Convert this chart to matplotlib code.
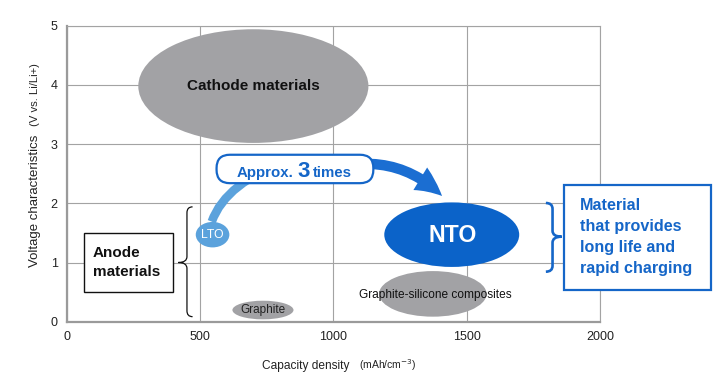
import matplotlib
matplotlib.use("Agg")
import matplotlib.pyplot as plt
from matplotlib.patches import Ellipse, Rectangle, FancyBboxPatch, FancyArrowPatch, ArrowStyle, PathPatch
from matplotlib.path import Path

plt.rcParams['font.family'] = ['Liberation Sans', 'DejaVu Sans']

# ---- data ----
x_ticks = [0, 500, 1000, 1500, 2000]
y_ticks = [0, 1, 2, 3, 4, 5]
materials = ["Cathode materials", "NTO", "Graphite-silicone composites", "Graphite", "LTO"]
cap_center = [700, 1444, 1373, 736, 547]       # mAh/cm3
cap_span = [863, 506, 403, 229, 126]
volt_center = [3.98, 1.47, 0.47, 0.197, 1.47]  # V vs Li/Li+
volt_span = [1.92, 1.09, 0.77, 0.315, 0.43]
colors = ["#a2a2a5", "#0b63c9", "#a2a2a5", "#a2a2a5", "#5ba2dc"]

GRID = "#a3a3a3"
BLUE = "#1566c8"

fig = plt.figure(figsize=(7.18, 3.79), dpi=100)
ax = fig.add_axes([66.7 / 718, 1 - 321.7 / 379, (600 - 66.7) / 718, (321.7 - 25.7) / 379])
ax.set_xlim(0, 2000)
ax.set_ylim(0, 5)
ax.set_xticks(x_ticks)
ax.set_yticks(y_ticks)
ax.tick_params(length=0, labelsize=9, colors="#222222", pad=6.5)
ax.grid(True, color=GRID, lw=0.8, zorder=0)
ax.set_axisbelow(True)
for s in ["left", "bottom"]:
    ax.spines[s].set_color("#9a9a9a")
    ax.spines[s].set_linewidth(1.6)
for s in ["right", "top"]:
    ax.spines[s].set_color(GRID)
    ax.spines[s].set_linewidth(0.8)

# ---- ellipses ----
for name, cx, cy, w, h, c in zip(materials, cap_center, volt_center, cap_span, volt_span, colors):
    ax.add_patch(Ellipse((cx, cy), w, h, facecolor=c, edgecolor="none", zorder=3))

ax.text(cap_center[0], volt_center[0], "Cathode materials", ha="center", va="center",
        fontsize=11, fontweight="bold", color="#111111", zorder=6)
ax.text(cap_center[1] + 3, volt_center[1] - 0.02, "NTO", ha="center", va="center",
        fontsize=16.7, fontweight="bold", color="white", zorder=6)
ax.text(1384, 0.45, "Graphite-silicone composites", ha="center", va="center",
        fontsize=8.6, color="#111111", zorder=6)
ax.text(cap_center[3], volt_center[3], "Graphite", ha="center", va="center",
        fontsize=8.5, color="#222222", zorder=6)
ax.text(cap_center[4], volt_center[4], "LTO", ha="center", va="center",
        fontsize=8.8, color="white", zorder=6)

# ---- curved arrows ----
arc = Path([(544, 1.69), (597, 2.36), (837, 2.73)], [Path.MOVETO, Path.CURVE3, Path.CURVE3])
ax.add_patch(PathPatch(arc, facecolor="none", edgecolor="#5ba2dc", lw=6.2,
                       capstyle="butt", zorder=2.5))
ax.add_patch(FancyArrowPatch((1062, 2.65), (1415, 2.09), connectionstyle="arc3,rad=-0.25",
                             arrowstyle=ArrowStyle.Simple(head_length=20, head_width=19, tail_width=7.5),
                             mutation_scale=1, color="#1b6ed2", lw=0, zorder=4))

# pill label
px_per_x = (600 - 66.7) / 2000
px_per_y = (321.7 - 25.7) / 5
ax.add_patch(FancyBboxPatch((562, 2.34), 1150 - 562, 2.82 - 2.34,
                            boxstyle="round,pad=0,rounding_size=50",
                            mutation_aspect=px_per_x / px_per_y,
                            facecolor="white", edgecolor=BLUE, lw=1.6, zorder=5))
ax.text(850, 2.44, "Approx.", ha="right", va="baseline", fontsize=10.8,
        fontweight="bold", color=BLUE, zorder=6)
ax.text(888, 2.44, "3", ha="center", va="baseline", fontsize=16,
        fontweight="bold", color=BLUE, zorder=6)
ax.text(925, 2.44, "times", ha="left", va="baseline", fontsize=10.8,
        fontweight="bold", color=BLUE, zorder=6)


def brace(x_end, x_mid, x_tip, y_bot, y_top, y_tip, hook, color, lw):
    verts = [(x_end, y_top), (x_mid, y_top), (x_mid, y_top - hook),
             (x_mid, y_tip + hook), (x_mid, y_tip), (x_tip, y_tip),
             (x_mid, y_tip), (x_mid, y_tip - hook),
             (x_mid, y_bot + hook), (x_mid, y_bot), (x_end, y_bot)]
    codes = [Path.MOVETO, Path.CURVE3, Path.CURVE3,
             Path.LINETO, Path.CURVE3, Path.CURVE3,
             Path.CURVE3, Path.CURVE3,
             Path.LINETO, Path.CURVE3, Path.CURVE3]
    ax.add_patch(PathPatch(Path(verts, codes), facecolor="none", edgecolor=color,
                           lw=lw, zorder=6, clip_on=False))


brace(472, 451, 419, 0.085, 1.94, 1.0, 0.1, "#111111", 0.9)
brace(1797, 1822, 1856, 0.845, 2.005, 1.436, 0.1, BLUE, 1.9)

# anode box
ax.add_patch(Rectangle((66, 0.507), 334, 0.986, facecolor="white", edgecolor="#111111",
                       lw=1.0, zorder=5))
ax.text(97.5, 1.0, "Anode\nmaterials", ha="left", va="center", fontsize=11,
        fontweight="bold", color="#111111", linespacing=1.52, zorder=6)

# right info box
ax.add_patch(Rectangle((1866, 0.535), 549, 1.775, facecolor="white", edgecolor=BLUE,
                       lw=1.6, zorder=5, clip_on=False))
ax.text(1925, 1.43, "Material\nthat provides\nlong life and\nrapid charging",
        ha="left", va="center", fontsize=11.6, fontweight="bold", color=BLUE,
        linespacing=1.5, zorder=6, clip_on=False)

# axis labels
fig.text(35 / 718, 1 - 267 / 379, "Voltage characteristics", rotation=90,
         ha="center", va="bottom", fontsize=9.5, color="#222222")
fig.text(35 / 718, 1 - 126 / 379, "(V vs. Li/Li+)", rotation=90,
         ha="center", va="bottom", fontsize=8.1, color="#222222")
fig.text(262.3 / 718, 1 - 369 / 379, "Capacity density", ha="left", va="baseline",
         fontsize=8.6, color="#222222")
fig.text(359 / 718, 1 - 369 / 379, "(mAh/cm$^{-3}$)", ha="left", va="baseline",
         fontsize=7.5, color="#222222")

fig.savefig("out.png", dpi=100)
